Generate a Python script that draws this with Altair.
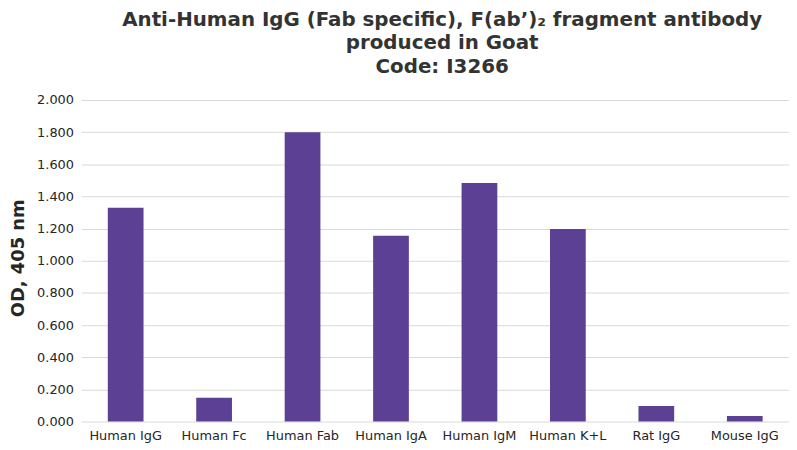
import altair as alt
import pandas as pd

categories = ["Human IgG", "Human Fc", "Human Fab", "Human IgA", "Human IgM",
              "Human K+L", "Rat IgG", "Mouse IgG"]
od_values = [1.329, 0.148, 1.800, 1.156, 1.483, 1.198, 0.096, 0.035]

df = pd.DataFrame({"Sample": categories, "OD": od_values})

FONT = "DejaVu Sans"

chart = alt.Chart(df).mark_bar(color="#5B4094").encode(
    x=alt.X("Sample:N", sort=categories, title=None,
            scale=alt.Scale(paddingInner=0.596, paddingOuter=0.298),
            axis=alt.Axis(labelAngle=0, labelFont=FONT, labelFontSize=13,
                          labelColor="#262626", ticks=False, domain=False,
                          labelPadding=8)),
    y=alt.Y("OD:Q", title="OD, 405 nm",
            scale=alt.Scale(domain=[0, 2.0], nice=False),
            axis=alt.Axis(values=[i * 0.2 for i in range(11)], format=".3f",
                          labelFont=FONT, labelFontSize=13, labelColor="#262626",
                          ticks=False, domain=False, labelPadding=8,
                          gridColor="#d9d9d9", gridWidth=1.2,
                          titleFont=FONT, titleFontSize=18, titleFontWeight="bold",
                          titleColor="#262626", titleAngle=270,
                          titleX=-63, titleY=159, titleAlign="center",
                          titleBaseline="middle")),
).properties(
    width=713,
    height=324,
    title=alt.TitleParams(
        text=["Anti-Human IgG (Fab specific), F(ab\u2019)\u2082 fragment antibody",
              "produced in Goat", "Code: I3266"],
        font=FONT, fontSize=20, fontWeight="bold", color="#333333",
        anchor="middle", offset=17, lineHeight=24, dx=7),
    autosize=alt.AutoSizeParams(type="none"),
    padding={"left": 74, "top": 91, "right": 0, "bottom": 25},
).configure_view(stroke=None)

chart.save("out.html", embed_options={"renderer": "svg", "actions": False})
